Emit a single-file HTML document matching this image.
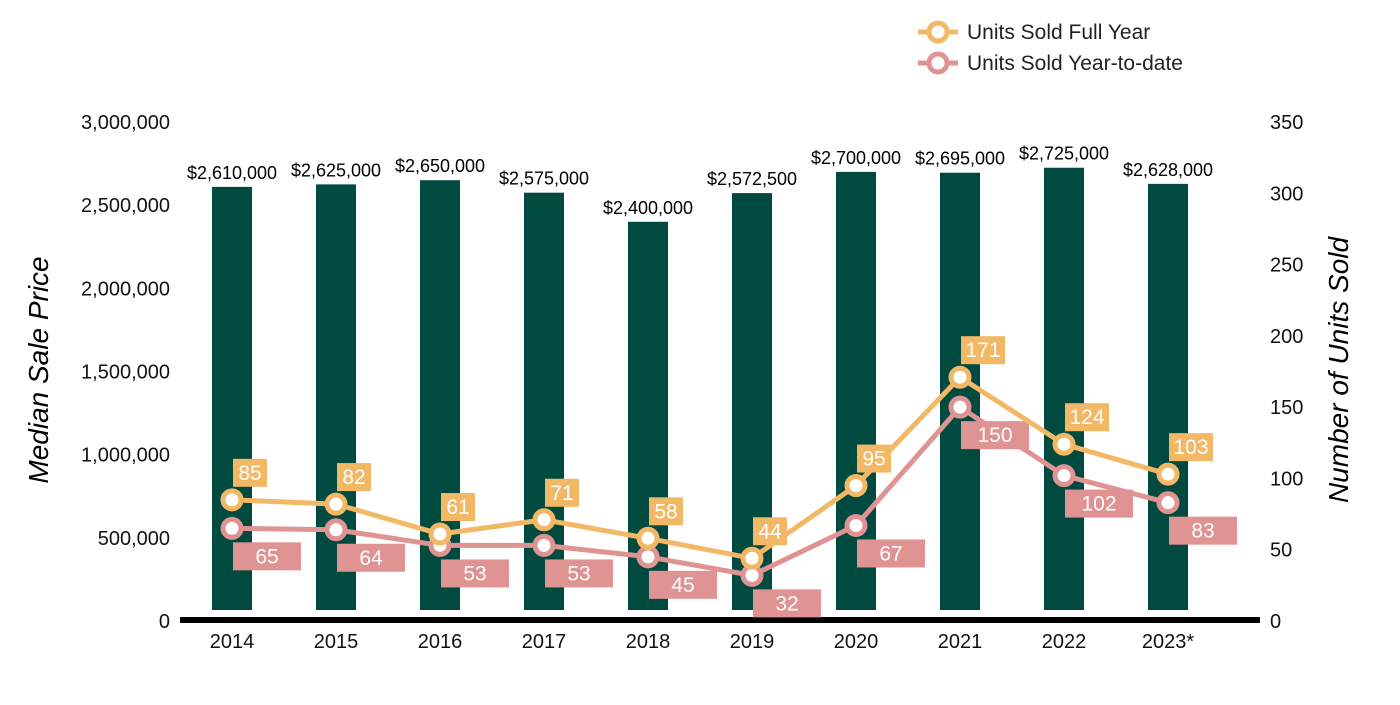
<!DOCTYPE html>
<html><head><meta charset="utf-8"><style>
body{margin:0;background:#fff}
svg text{font-family:"Liberation Sans",Arial,sans-serif}
</style></head><body>
<svg id="c" width="1400" height="700">
<g>
 <g>
  <line x1="918" y1="32" x2="958" y2="32" stroke="#f2b866" stroke-width="5"/>
  <circle cx="938" cy="32" r="9" fill="#fff" stroke="#f2b866" stroke-width="5"/>
  <text x="967" y="39" font-size="21" fill="#222">Units Sold Full Year</text>
 </g>
 <g>
  <line x1="918" y1="63" x2="958" y2="63" stroke="#e09393" stroke-width="5"/>
  <circle cx="938" cy="63" r="9" fill="#fff" stroke="#e09393" stroke-width="5"/>
  <text x="967" y="70" font-size="21" fill="#222">Units Sold Year-to-date</text>
 </g>
</g>
<text transform="translate(48,370) rotate(-90)" text-anchor="middle" font-size="28" font-style="italic" fill="#000">Median Sale Price</text>
<text transform="translate(1348,370) rotate(-90)" text-anchor="middle" font-size="28" font-style="italic" fill="#000">Number of Units Sold</text>
<g id="g"></g>
</svg>
<script>
const years=["2014","2015","2016","2017","2018","2019","2020","2021","2022","2023*"];
const prices=[2610000,2625000,2650000,2575000,2400000,2572500,2700000,2695000,2725000,2628000];
const priceLabels=["$2,610,000","$2,625,000","$2,650,000","$2,575,000","$2,400,000","$2,572,500","$2,700,000","$2,695,000","$2,725,000","$2,628,000"];
const fullYear=[85,82,61,71,58,44,95,171,124,103];
const ytd=[65,64,53,53,45,32,67,150,102,83];
const leftTicks=[0,500000,1000000,1500000,2000000,2500000,3000000];
const rightTicks=[0,50,100,150,200,250,300,350];

const NS="http://www.w3.org/2000/svg",g=document.getElementById('g');
const y0=621,yTop=122;
const yL=v=>y0-(v/3000000)*(y0-yTop);
const yR=v=>y0-(v/350)*(y0-yTop);
const xC=i=>232+i*104;
function mk(t,a,txt){const e=document.createElementNS(NS,t);for(const k in a)e.setAttribute(k,a[k]);if(txt!==undefined)e.textContent=txt;g.appendChild(e);return e;}
leftTicks.forEach(v=>{
 const e=mk('text',{x:170,y:yL(v)+7,'text-anchor':'end','font-size':20,fill:'#111'},v.toLocaleString('en-US'));
 
 
});
rightTicks.forEach(v=>{
 const e=mk('text',{x:1270,y:yR(v)+7,'font-size':20,fill:'#111'},String(v));
 
 
});
prices.forEach((p,i)=>{
 const r=mk('rect',{x:xC(i)-20,y:yL(p),width:40,height:610-yL(p),fill:'#004a40'});
 
 
 const t=mk('text',{x:xC(i),y:yL(p)-8,'text-anchor':'middle','font-size':18,fill:'#000'},priceLabels[i]);
 
 
 const x=mk('text',{x:xC(i),y:648,'text-anchor':'middle','font-size':20,fill:'#111'},years[i]);
 
 
});
const ax=mk('rect',{x:180,y:617,width:1080,height:6,fill:'#000'});


function series(vals,col,name,above){
 const pl=mk('polyline',{points:vals.map((v,i)=>xC(i)+','+yR(v)).join(' '),fill:'none',stroke:col,'stroke-width':5});
 
 
 vals.forEach((v,i)=>{
  const c=mk('circle',{cx:xC(i),cy:yR(v),r:9,fill:'#fff',stroke:col,'stroke-width':5});
  
  
 });
 vals.forEach((v,i)=>{
  const w=above?(String(v).length>2?44:34):68, by=above?yR(v)-41:yR(v)+14;
  const b=mk('rect',{x:xC(i)+1,y:by,width:w,height:28,fill:col});
  
  
  const t=mk('text',{x:xC(i)+1+w/2,y:by+21,'text-anchor':'middle','font-size':21,fill:'#fff'},String(v));
  
  
 });
}
series(ytd,'#e09393','ytd',false);
series(fullYear,'#f2b866','full-year',true);
</script>
</body></html>
